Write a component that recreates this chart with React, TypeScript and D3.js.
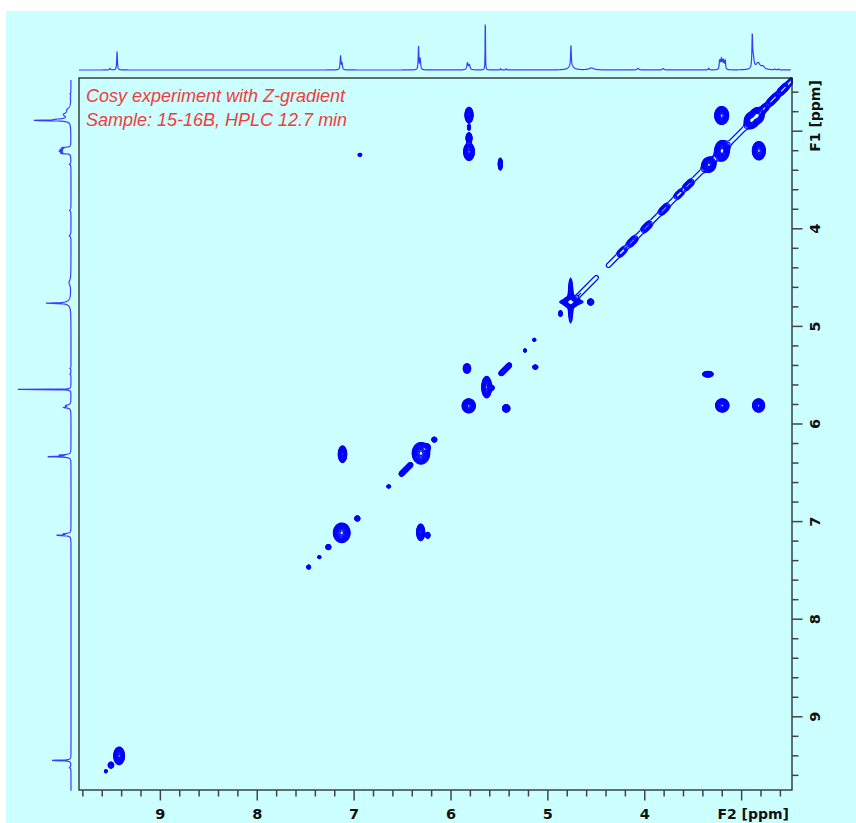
import React, { useMemo } from 'react';
import * as d3 from 'd3';

// ---------- data (ppm) ----------
const F2_DOMAIN = [9.84, 2.48];
const F1_DOMAIN = [2.455, 9.75];
const F2_TICK_LABELS = [9, 8, 7, 6, 5, 4];
const F1_TICK_LABELS = [4, 5, 6, 7, 8, 9];
const TITLE_LINES = ['Cosy experiment with Z-gradient', 'Sample: 15-16B, HPLC 12.7 min'];

// contour levels (relative intensity)
const LEVELS = [0.05, 0.07, 0.1, 0.14, 0.19, 0.25, 0.33, 0.43, 0.55, 0.7, 0.87];

// diagonal peaks: [F2, F1, halfWidthF2, halfWidthF1, intensity]
const diagonalPeaks = [
  [2.90, 2.89, 0.07, 0.08, 1],
  [2.84, 2.84, 0.07, 0.08, 1],
  [3.203, 3.201, 0.074, 0.105, 1],
  [3.338, 3.344, 0.07, 0.075, 1],
  [4.765, 4.751, 0.077, 0.06, 1],
  [4.765, 4.735, 0.025, 0.23, 0.4],
  [4.757, 4.75, 0.12, 0.025, 0.4],
  [5.14, 5.137, 0.015, 0.015, 0.3],
  [5.236, 5.247, 0.015, 0.015, 0.3],
  [5.632, 5.622, 0.05, 0.11, 1],
  [5.58, 5.63, 0.025, 0.025, 0.5],
  [5.817, 5.814, 0.068, 0.072, 1],
  [6.31, 6.30, 0.09, 0.11, 1],
  [6.25, 6.24, 0.035, 0.035, 0.6],
  [6.172, 6.16, 0.025, 0.025, 0.5],
  [6.643, 6.64, 0.02, 0.015, 0.3],
  [6.967, 6.968, 0.026, 0.026, 0.5],
  [7.128, 7.115, 0.086, 0.10, 1],
  [7.266, 7.261, 0.026, 0.026, 0.5],
  [7.359, 7.364, 0.015, 0.015, 0.3],
  [7.469, 7.466, 0.02, 0.02, 0.4],
  [9.426, 9.40, 0.055, 0.09, 1],
  [9.51, 9.495, 0.028, 0.03, 0.6],
  [9.563, 9.558, 0.014, 0.015, 0.3],
];

// cross peaks: [F2, F1, halfWidthF2, halfWidthF1, intensity]
const crossPeaks = [
  [5.814, 2.835, 0.041, 0.08, 1],
  [5.814, 2.96, 0.015, 0.03, 0.4],
  [5.814, 3.07, 0.03, 0.055, 0.8],
  [5.814, 3.21, 0.055, 0.09, 1],
  [5.491, 3.337, 0.021, 0.062, 0.4],
  [6.94, 3.242, 0.018, 0.015, 0.4],
  [3.206, 2.839, 0.072, 0.092, 1],
  [2.822, 3.20, 0.067, 0.094, 1],
  [4.558, 4.75, 0.031, 0.031, 0.6],
  [4.87, 4.868, 0.017, 0.03, 0.5],
  [5.13, 5.417, 0.026, 0.02, 0.5],
  [5.835, 5.431, 0.038, 0.048, 1],
  [5.43, 5.84, 0.038, 0.038, 0.8],
  [7.12, 6.31, 0.043, 0.085, 1],
  [6.313, 7.11, 0.041, 0.085, 1],
  [6.24, 7.14, 0.022, 0.03, 0.6],
  [3.348, 5.49, 0.055, 0.029, 0.5],
  [3.20, 5.81, 0.069, 0.068, 1],
  [2.825, 5.81, 0.062, 0.068, 1],
];

// diagonal ridges: [startPpm, endPpm, halfWidth, intensity]
const diagonalRidges = [
  [2.44, 2.86, 0.03, 0.12],
  [2.86, 3.30, 0.022, 0.065],
  [3.38, 4.375, 0.022, 0.065],
  [4.50, 4.70, 0.022, 0.07],
  [5.40, 5.48, 0.025, 0.4],
  [6.42, 6.51, 0.025, 0.35],
  [2.55, 2.59, 0.03, 0.3],
  [2.65, 2.70, 0.03, 0.3],
  [2.76, 2.80, 0.03, 0.3],
  [3.53, 3.57, 0.025, 0.15],
  [3.63, 3.66, 0.022, 0.12],
  [3.78, 3.82, 0.025, 0.15],
  [3.96, 4.00, 0.025, 0.15],
  [4.11, 4.15, 0.025, 0.15],
  [4.22, 4.25, 0.022, 0.12],
];

// 1D projection lines: [ppm, height, halfWidthAtHalfMax]
const projectionPeaks = [
  [9.447, 0.34, 0.004], [9.52, 0.03, 0.006],
  [7.14, 0.25, 0.005], [7.125, 0.12, 0.005],
  [6.335, 0.42, 0.004], [6.318, 0.2, 0.005],
  [5.83, 0.12, 0.008], [5.81, 0.08, 0.008],
  [5.646, 1.0, 0.002],
  [5.49, 0.02, 0.005], [5.43, 0.02, 0.005],
  [4.762, 0.38, 0.004], [4.76, 0.07, 0.03],
  [4.55, 0.035, 0.03],
  [4.07, 0.03, 0.01], [3.81, 0.025, 0.01],
  [3.34, 0.03, 0.006],
  [3.228, 0.16, 0.004], [3.218, 0.14, 0.004], [3.208, 0.16, 0.004], [3.198, 0.14, 0.004],
  [3.188, 0.15, 0.004], [3.178, 0.13, 0.004], [3.168, 0.14, 0.004],
  [2.89, 0.55, 0.004], [2.88, 0.2, 0.01], [2.83, 0.12, 0.025], [2.78, 0.05, 0.02],
  [2.66, 0.015, 0.005], [2.62, 0.015, 0.005],
];

// ---------- layout ----------
const W = 856, H = 823;
const PL = 79, PR = 792, PT = 78, PB = 790;
const BLUE = '#0000ff';
const PROJ = '#3c3cff';
const AXIS_FONT = '"DejaVu Sans", Verdana, sans-serif';

function buildContours(x: any, y: any) {
  const nx = PR - PL, ny = PB - PT;
  const g = new Float64Array(nx * ny);
  const L0 = LEVELS[0];
  const addPeak = (p: number[]) => {
    const [f2, f1, w2, w1, a] = p;
    const k = Math.sqrt(2 * Math.log(a / L0));
    const cx = x(f2) - PL, cy = y(f1) - PT;
    const sx = Math.max(0.7, Math.abs(x(f2 + w2) - x(f2)) / k);
    const sy = Math.max(0.7, Math.abs(y(f1 + w1) - y(f1)) / k);
    const i0 = Math.max(0, Math.floor(cx - 4 * sx)), i1 = Math.min(nx - 1, Math.ceil(cx + 4 * sx));
    const j0 = Math.max(0, Math.floor(cy - 4 * sy)), j1 = Math.min(ny - 1, Math.ceil(cy + 4 * sy));
    for (let j = j0; j <= j1; j++) {
      const dy = (j + 0.5 - cy) / sy;
      for (let i = i0; i <= i1; i++) {
        const dx = (i + 0.5 - cx) / sx;
        g[j * nx + i] += a * Math.exp(-0.5 * (dx * dx + dy * dy));
      }
    }
  };
  const addRidge = (r: number[]) => {
    const [p0, p1, w, a] = r;
    const k = Math.sqrt(2 * Math.log(a / L0));
    const ax = x(p0) - PL, ay = y(p0) - PT, bx = x(p1) - PL, by = y(p1) - PT;
    const s = Math.max(0.7, Math.abs(x(p0 + w) - x(p0)) / k);
    const dxs = bx - ax, dys = by - ay, len2 = dxs * dxs + dys * dys;
    const i0 = Math.max(0, Math.floor(Math.min(ax, bx) - 4 * s)), i1 = Math.min(nx - 1, Math.ceil(Math.max(ax, bx) + 4 * s));
    const j0 = Math.max(0, Math.floor(Math.min(ay, by) - 4 * s)), j1 = Math.min(ny - 1, Math.ceil(Math.max(ay, by) + 4 * s));
    for (let j = j0; j <= j1; j++) {
      const py = j + 0.5;
      for (let i = i0; i <= i1; i++) {
        const px = i + 0.5;
        let t = ((px - ax) * dxs + (py - ay) * dys) / len2;
        t = Math.max(0, Math.min(1, t));
        const ex = px - ax - t * dxs, ey = py - ay - t * dys;
        g[j * nx + i] += a * Math.exp(-0.5 * (ex * ex + ey * ey) / (s * s));
      }
    }
  };
  diagonalPeaks.forEach(addPeak);
  crossPeaks.forEach(addPeak);
  diagonalRidges.forEach(addRidge);
  const contours = d3.contours().size([nx, ny]).thresholds(LEVELS)(g as any);
  const path = d3.geoPath();
  return contours.map((c) => path(c as any) || '');
}

function projectionValue(ppm: number) {
  let s = 0;
  for (const [p0, h, w] of projectionPeaks) {
    const u = (ppm - p0) / w;
    s += h / (1 + u * u);
  }
  return s;
}

export default function App() {
  const x = d3.scaleLinear().domain(F2_DOMAIN).range([PL, PR]);
  const y = d3.scaleLinear().domain(F1_DOMAIN).range([PT, PB]);
  const topI = d3.scaleLinear().domain([0, 1]).range([70, 14]);
  const leftI = d3.scaleLinear().domain([0, 1]).range([71, 15]);

  const contourPaths = useMemo(() => buildContours(x, y), []);

  const topPath = useMemo(() => {
    const pts: [number, number][] = [];
    for (let px = PL; px <= PR - 1; px += 0.2) pts.push([px, topI(projectionValue(x.invert(px)))]);
    return d3.line()(pts);
  }, []);
  const leftPath = useMemo(() => {
    const pts: [number, number][] = [];
    for (let py = PT + 2; py <= PB + 1; py += 0.2) pts.push([leftI(projectionValue(y.invert(py))), py]);
    return d3.line()(pts);
  }, []);

  const f2Ticks = d3.range(13, 50).map((k) => k / 5);
  const f1Ticks = d3.range(13, 49).map((k) => k / 5);
  const isMajor = (v: number) => Math.abs(v - Math.round(v)) < 1e-6;

  return (
    <svg width={W} height={H} style={{ position: 'absolute', left: 0, top: 0, display: 'block' }}>
      <rect x={0} y={0} width={W} height={H} fill="#ffffff" />
      <rect x={6} y={11} width={W - 6} height={H - 11} fill="#ccffff" />

      {/* projections */}
      <path d={topPath || ''} fill="none" stroke={PROJ} strokeWidth={1.2} />
      <path d={leftPath || ''} fill="none" stroke={PROJ} strokeWidth={1.2} />

      {/* contours */}
      <g transform={`translate(${PL},${PT})`}>
        {contourPaths.map((d, i) => (
          <path key={i} d={d} fill="none" stroke={BLUE} strokeWidth={1.2} strokeLinejoin="round" />
        ))}
      </g>

      {/* frame */}
      <rect x={PL} y={PT} width={PR - PL} height={PB - PT} fill="none" stroke="#222" strokeWidth={1.3} />

      {/* bottom axis */}
      {f2Ticks.map((v) => (
        <line key={'b' + v} x1={x(v)} x2={x(v)} y1={PB} y2={PB + (isMajor(v) ? 10.5 : 6.5)} stroke="#444" strokeWidth={1.5} />
      ))}
      {F2_TICK_LABELS.map((v) => (
        <text key={'bl' + v} x={x(v)} y={819} textAnchor="middle" fontFamily={AXIS_FONT} fontWeight="bold" fontSize={14.5} fill="#111">{v}</text>
      ))}
      <text x={789} y={819} textAnchor="end" fontFamily={AXIS_FONT} fontWeight="bold" fontSize={14} fill="#111">F2 [ppm]</text>

      {/* right axis */}
      {f1Ticks.map((v) => (
        <line key={'r' + v} x1={PR} x2={PR + (isMajor(v) ? 10.5 : 6.5)} y1={y(v)} y2={y(v)} stroke="#444" strokeWidth={1.5} />
      ))}
      {F1_TICK_LABELS.map((v) => (
        <text key={'rl' + v} transform={`translate(820,${y(v)}) rotate(-90)`} textAnchor="middle" fontFamily={AXIS_FONT} fontWeight="bold" fontSize={14.5} fill="#111">{v}</text>
      ))}
      <text transform="translate(820,116) rotate(-90)" textAnchor="middle" fontFamily={AXIS_FONT} fontWeight="bold" fontSize={14} fill="#111">F1 [ppm]</text>

      {/* title */}
      {TITLE_LINES.map((t, i) => (
        <text key={t} x={86} y={101.5 + i * 24.5} fontFamily='"Liberation Sans", Arial, sans-serif' fontStyle="italic" fontSize={18} fill="#f03c3c">{t}</text>
      ))}
    </svg>
  );
}
